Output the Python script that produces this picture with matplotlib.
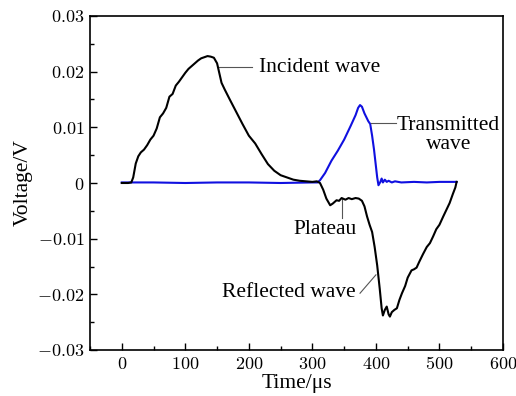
import matplotlib
matplotlib.use("Agg")
import matplotlib.pyplot as plt
from matplotlib.ticker import MultipleLocator, FuncFormatter

plt.rcParams['font.family'] = ['Liberation Serif', 'DejaVu Serif']
plt.rcParams['mathtext.fontset'] = 'cm'

# Incident + reflected wave signal (strain gauge on the incident bar)
t_inc = [0, 10, 15, 18, 22, 26, 30, 35, 40, 45, 50, 55, 60, 65, 70, 75, 80, 85, 90, 95,
         100, 105, 110, 115, 120, 125, 130, 135, 140, 145, 150, 153, 157, 162, 170, 180,
         190, 200, 210, 220, 230, 240, 250, 260, 270, 280, 290, 300, 307, 312, 317, 322,
         328, 332, 338, 342, 346, 352, 357, 362, 368, 373, 378, 382, 386, 390, 394, 398,
         402, 406, 409, 411, 414, 417, 420, 422, 425, 429, 433, 437, 441, 446, 450, 456,
         460, 464, 468, 474, 480, 485, 490, 495, 500, 506, 511, 516, 521, 525, 527]
v_inc = [0, 0, 0.0001, 0.001, 0.0035, 0.0048, 0.0055, 0.006, 0.0068, 0.0078, 0.0085,
         0.0098, 0.0118, 0.0125, 0.0135, 0.0155, 0.016, 0.0175, 0.0182, 0.019, 0.0198,
         0.0205, 0.021, 0.0215, 0.022, 0.0224, 0.0226, 0.0228, 0.0227, 0.0225, 0.0215,
         0.020, 0.018, 0.0168, 0.015, 0.0128, 0.0106, 0.0085, 0.0071, 0.0052, 0.0034,
         0.0022, 0.0014, 0.001, 0.0006, 0.0004, 0.0003, 0.0002, 0.0003, 0.0, -0.0012,
         -0.0028, -0.004, -0.0037, -0.0031, -0.0032, -0.0027, -0.003, -0.0027, -0.0029,
         -0.0027, -0.0028, -0.0032, -0.0042, -0.006, -0.0075, -0.0088, -0.0115, -0.0148,
         -0.019, -0.0225, -0.0238, -0.0228, -0.0222, -0.0236, -0.024, -0.0232, -0.0228,
         -0.0225, -0.021, -0.0198, -0.0185, -0.017, -0.0157, -0.0155, -0.0152, -0.0142,
         -0.0128, -0.0115, -0.0108, -0.0096, -0.0083, -0.0075, -0.006, -0.0048, -0.0036,
         -0.002, -0.0008, 0.0002]

# Transmitted wave signal (strain gauge on the transmission bar)
t_tra = [0, 50, 100, 150, 200, 250, 300, 308, 312, 320, 330, 340, 350, 360, 368, 372,
         375, 378, 382, 385, 388, 391, 394, 397, 400, 402, 404, 407, 409, 411, 414, 417,
         420, 425, 430, 440, 460, 480, 500, 527]
v_tra = [0.0001, 0.0001, 0.0, 0.0001, 0.0001, 0.0, 0.0001, 0.0001, 0.0005, 0.0018,
         0.004, 0.0058, 0.0078, 0.0102, 0.0122, 0.0135, 0.014, 0.0137, 0.0125, 0.0118,
         0.0111, 0.0106, 0.0085, 0.006, 0.003, 0.001, -0.0004, 0.0002, 0.0008, 0.0001,
         0.0006, 0.0002, 0.0004, 0.0001, 0.0003, 0.0001, 0.0002, 0.0001, 0.0002, 0.0002]

x_ticks = [0, 100, 200, 300, 400, 500, 600]
y_ticks = [-0.03, -0.02, -0.01, 0, 0.01, 0.02, 0.03]

fig = plt.figure(figsize=(5.16, 3.96), dpi=100)
ax = fig.add_axes([90 / 516, 1 - 350 / 396, (503 - 90) / 516, (350 - 16) / 396])

ax.plot(t_tra, v_tra, color='#1010e0', lw=1.5, zorder=2)
ax.plot(t_inc, v_inc, color='black', lw=1.5, zorder=3)

ax.set_xlim(-50, 600)
ax.set_ylim(-0.03, 0.03)
ax.set_xticks(x_ticks)
ax.set_yticks(y_ticks)
ax.xaxis.set_minor_locator(MultipleLocator(50))
ax.yaxis.set_minor_locator(MultipleLocator(0.005))
ax.xaxis.set_major_formatter(FuncFormatter(lambda v, p: f'${v:g}$'))
ax.yaxis.set_major_formatter(FuncFormatter(lambda v, p: f'${v:g}$'))
ax.tick_params(which='both', direction='in', top=False, right=False,
               labelsize=13, pad=4)
ax.tick_params(which='major', length=5, width=1)
ax.tick_params(which='minor', length=3, width=1)
for s in ax.spines.values():
    s.set_linewidth(1.2)

ax.set_xlabel('Time/μs', fontsize=15.5, labelpad=1)
ax.set_ylabel('Voltage/V', fontsize=15.5, labelpad=3)

fs = 15.5
lc = '#555555'
ax.plot([152, 205], [0.0208, 0.0208], color=lc, lw=0.8)
ax.text(216, 0.0208, 'Incident wave', fontsize=fs, va='center', ha='left')

ax.plot([393, 432], [0.0107, 0.0107], color=lc, lw=0.8)
ax.text(514, 0.0087, 'Transmitted\nwave', fontsize=fs, va='center', ha='center',
        linespacing=1.0)

ax.plot([346, 346], [-0.0027, -0.0063], color=lc, lw=0.8)
ax.text(320, -0.0083, 'Plateau', fontsize=fs, va='center', ha='center')

ax.plot([375, 400], [-0.0198, -0.0165], color=lc, lw=0.8)
ax.text(368, -0.0196, 'Reflected wave', fontsize=fs, va='center', ha='right')

fig.savefig('out.png', dpi=100)
